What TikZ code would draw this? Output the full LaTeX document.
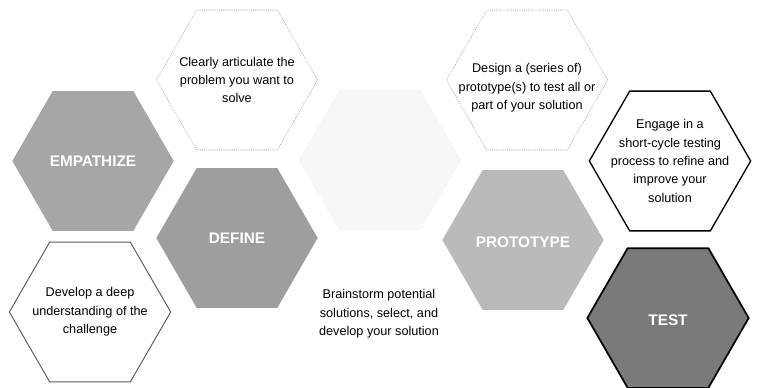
\documentclass[tikz,border=0pt]{standalone}
\usepackage{fontspec}
\setmainfont{Liberation Sans}
\usepackage{xcolor}
\usetikzlibrary{shapes.geometric}

\begin{document}
\begin{tikzpicture}[x=0.75pt,y=-0.75pt,
 hexa/.style={regular polygon,regular polygon sides=6,minimum size=121pt,inner sep=0pt,outer sep=0pt},
 phase/.style={hexa,fill=black!35},
 note/.style={hexa,draw=black!35,densely dotted,line width=0.6pt},
 title/.style={text=white,font=\fontsize{11.5}{13}\selectfont\bfseries},
 desc/.style={align=center,font=\fontsize{9.5}{13.8}\selectfont}]
 \useasboundingbox[fill=white] (0,0) rectangle (760,387);

 % phases
 \node[phase] (emp) at (93,161) {};
 \node[phase,fill=black!38] (def) at (237,238) {};
 \node[hexa,fill=black!3,draw=black!10,dotted] (ide) at (380,160) {};
 \node[phase,fill=black!27] (pro) at (523,240) {};
 \node[hexa,fill=black!52,draw=black,line width=1.3pt] (tes) at (668,318) {};

 % notes
 \node[hexa,draw=black!65,line width=0.7pt] (empn) at (90,312) {};
 \node[note] (defn) at (237,80) {};
 \node[note] (pron) at (527,80) {};
 \node[hexa,draw=black,line width=1pt] (tesn) at (670,161) {};

 % labels
 \node[title] (empt) at (emp) {EMPATHIZE};
 \node[title] (deft) at (def) {DEFINE};
 \node[title] (prot) at ([yshift=-2]pro) {PROTOTYPE};
 \node[title] (test) at ([yshift=-2]tes) {TEST};

 \node[desc] (empd) at (empn) {Develop a deep\\understanding of the\\challenge};
 \node[desc] (defd) at (defn) {Clearly articulate the\\problem you want to\\solve};
 \node[desc] (ided) at (379,314) {Brainstorm potential\\solutions, select, and\\develop your solution};
 \node[desc] (prod) at ([yshift=-6]pron) {Design a (series of)\\prototype(s) to test all or\\part of your solution};
 \node[desc] (tesd) at (tesn) {Engage in a\\short-cycle testing\\process to refine and\\improve your\\solution};
\end{tikzpicture}
\end{document}
